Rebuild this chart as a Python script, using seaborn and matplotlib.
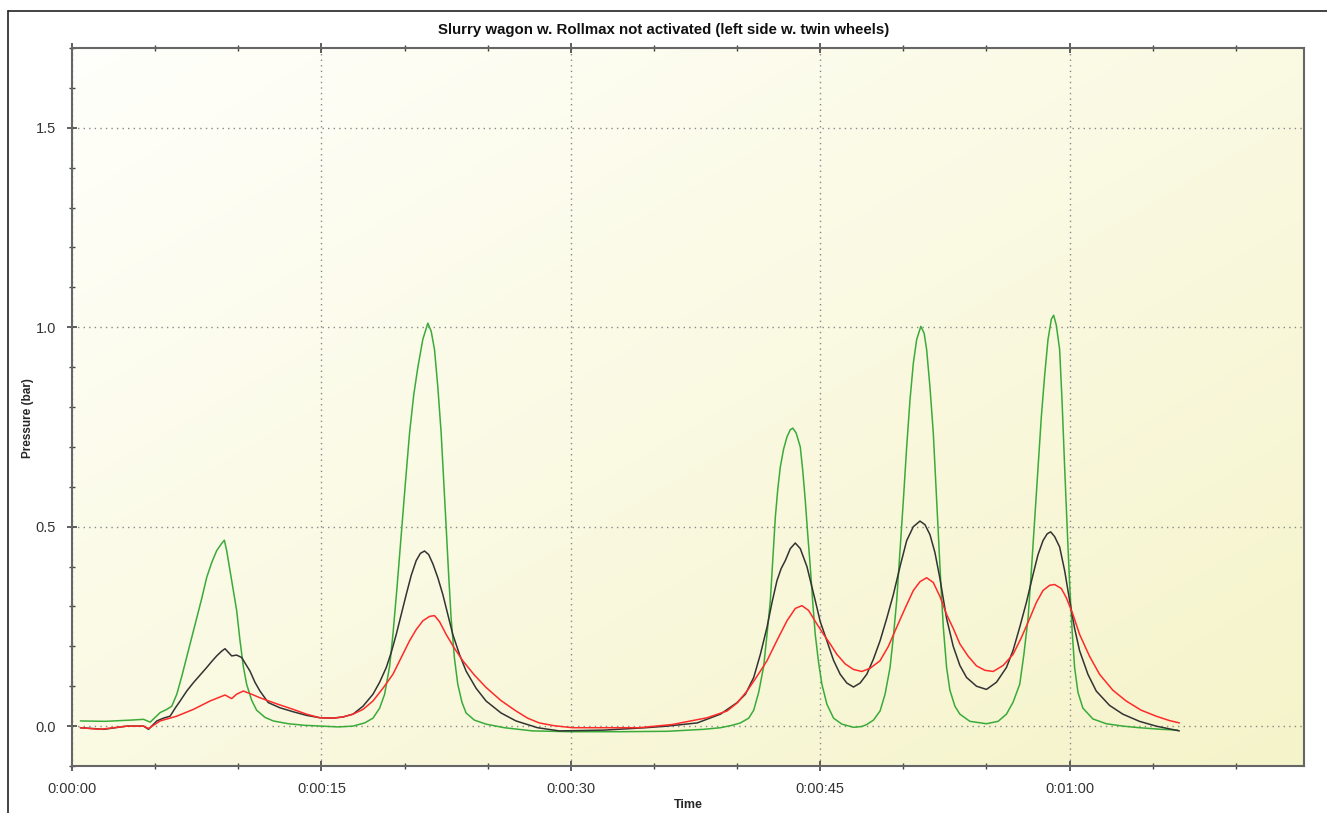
import numpy as np
import pandas as pd
import seaborn as sns
import matplotlib.pyplot as plt
from matplotlib.ticker import MultipleLocator, FuncFormatter
from matplotlib.lines import Line2D

# ---------- data (time in s, pressure in bar) ----------
green_t = [0.5, 2.0, 3.5, 4.3, 4.7, 5.0, 5.3, 5.7, 6.0, 6.3, 6.6, 7.0, 7.4, 7.8, 8.1, 8.4,
           8.7, 9.0, 9.16, 9.3, 9.5, 9.7, 9.9, 10.1, 10.3, 10.5, 10.8, 11.1, 11.6, 12.1,
           13.0, 14.0, 15.0, 16.0, 16.9, 17.6, 18.1, 18.5, 18.8, 19.1, 19.3, 19.55, 19.8,
           20.05, 20.3, 20.55, 20.8, 21.1, 21.4, 21.6, 21.8, 22.0, 22.2, 22.35, 22.5, 22.65,
           22.8, 23.0, 23.2, 23.45, 23.7, 24.2, 24.9, 26.0, 27.7, 30.0, 33.0, 35.8, 38.0,
           39.0, 39.7, 40.2, 40.7, 41.0, 41.3, 41.6, 41.8, 42.0, 42.15, 42.3, 42.45, 42.6,
           42.8, 43.0, 43.2, 43.35, 43.55, 43.8, 43.95, 44.1, 44.25, 44.4, 44.55, 44.7,
           44.9, 45.1, 45.4, 45.8, 46.3, 47.0, 47.5, 47.8, 48.2, 48.6, 48.9, 49.2, 49.4,
           49.6, 49.8, 50.0, 50.2, 50.4, 50.6, 50.8, 51.05, 51.25, 51.4, 51.6, 51.8, 51.95,
           52.1, 52.25, 52.4, 52.6, 52.8, 53.1, 53.4, 54.0, 55.0, 55.7, 56.2, 56.6, 57.0,
           57.25, 57.5, 57.7, 57.9, 58.1, 58.3, 58.5, 58.7, 58.9, 59.04, 59.2, 59.4, 59.55,
           59.7, 59.85, 60.0, 60.15, 60.3, 60.5, 60.8, 61.4, 62.2, 63.2, 64.2, 65.5, 66.5]
green_v = [0.013, 0.012, 0.015, 0.017, 0.010, 0.022, 0.034, 0.042, 0.050, 0.080, 0.125,
           0.190, 0.255, 0.320, 0.373, 0.410, 0.440, 0.458, 0.466, 0.440, 0.390, 0.340,
           0.290, 0.215, 0.150, 0.105, 0.065, 0.040, 0.022, 0.013, 0.006, 0.002, 0.0,
           -0.002, 0.0, 0.008, 0.020, 0.045, 0.080, 0.150, 0.230, 0.350, 0.480, 0.610,
           0.735, 0.830, 0.900, 0.970, 1.010, 0.990, 0.944, 0.850, 0.735, 0.620, 0.500,
           0.380, 0.270, 0.170, 0.105, 0.060, 0.033, 0.015, 0.005, -0.004, -0.012, -0.014,
           -0.014, -0.013, -0.008, -0.004, 0.002, 0.008, 0.020, 0.040, 0.085, 0.150, 0.230,
           0.315, 0.420, 0.524, 0.595, 0.650, 0.695, 0.725, 0.743, 0.747, 0.735, 0.700,
           0.640, 0.566, 0.480, 0.400, 0.310, 0.230, 0.160, 0.105, 0.055, 0.020, 0.005,
           -0.003, -0.001, 0.004, 0.015, 0.038, 0.080, 0.147, 0.225, 0.315, 0.440, 0.566,
           0.700, 0.818, 0.910, 0.969, 1.002, 0.985, 0.944, 0.850, 0.735, 0.610, 0.483,
           0.360, 0.250, 0.147, 0.090, 0.050, 0.030, 0.012, 0.006, 0.012, 0.030, 0.060,
           0.105, 0.180, 0.270, 0.390, 0.520, 0.650, 0.776, 0.880, 0.969, 1.020, 1.030,
           1.005, 0.944, 0.810, 0.650, 0.500, 0.357, 0.240, 0.147, 0.085, 0.045, 0.018,
           0.006, 0.0, -0.004, -0.008, -0.010]

black_t = [0.5, 1.9, 3.3, 4.3, 4.6, 5.1, 5.5, 5.9, 6.2, 6.5, 6.9, 7.3, 7.7, 8.1, 8.4, 8.7,
           9.0, 9.2, 9.4, 9.6, 9.9, 10.2, 10.45, 10.7, 11.0, 11.3, 11.8, 12.5, 13.3, 14.1,
           14.9, 15.7, 16.3, 16.9, 17.5, 18.1, 18.5, 18.9, 19.2, 19.5, 19.8, 20.1, 20.4,
           20.7, 20.95, 21.2, 21.45, 21.7, 22.0, 22.3, 22.6, 22.9, 23.3, 23.7, 24.3, 24.9,
           25.8, 26.7, 28.0, 29.3, 32.0, 34.5, 35.8, 37.6, 39.0, 40.0, 40.5, 41.0, 41.4,
           41.8, 42.1, 42.4, 42.65, 42.9, 43.2, 43.5, 43.8, 44.2, 44.45, 44.7, 45.0, 45.4,
           45.8, 46.2, 46.6, 47.0, 47.4, 47.8, 48.2, 48.6, 49.0, 49.4, 49.8, 50.2, 50.6,
           51.0, 51.3, 51.6, 51.9, 52.2, 52.6, 53.0, 53.4, 53.8, 54.4, 55.0, 55.6, 56.2,
           56.6, 57.0, 57.4, 57.8, 58.1, 58.4, 58.65, 58.86, 59.1, 59.4, 59.7, 60.0, 60.3,
           60.6, 61.1, 61.6, 62.4, 63.2, 64.2, 65.2, 66.6]
black_v = [-0.004, -0.008, 0.0, 0.0, -0.008, 0.013, 0.020, 0.025, 0.045, 0.063, 0.088,
           0.109, 0.128, 0.147, 0.162, 0.176, 0.188, 0.194, 0.185, 0.176, 0.178, 0.172,
           0.155, 0.138, 0.110, 0.088, 0.059, 0.046, 0.036, 0.027, 0.021, 0.020, 0.023,
           0.030, 0.050, 0.080, 0.110, 0.147, 0.185, 0.230, 0.280, 0.330, 0.378, 0.415,
           0.433, 0.439, 0.430, 0.407, 0.372, 0.330, 0.280, 0.230, 0.180, 0.138, 0.095,
           0.063, 0.033, 0.013, -0.004, -0.012, -0.010, -0.004, 0.0, 0.008, 0.030, 0.059,
           0.080, 0.122, 0.180, 0.248, 0.310, 0.365, 0.395, 0.415, 0.445, 0.459, 0.445,
           0.400, 0.358, 0.315, 0.262, 0.214, 0.165, 0.130, 0.108, 0.098, 0.108, 0.130,
           0.168, 0.214, 0.270, 0.330, 0.400, 0.465, 0.500, 0.514, 0.505, 0.480, 0.435,
           0.370, 0.270, 0.200, 0.152, 0.122, 0.100, 0.092, 0.110, 0.147, 0.190, 0.248,
           0.310, 0.380, 0.430, 0.465, 0.482, 0.487, 0.475, 0.449, 0.390, 0.315, 0.245,
           0.189, 0.130, 0.088, 0.052, 0.030, 0.012, 0.0, -0.012]

red_t = [0.5, 1.7, 3.3, 4.3, 4.6, 5.3, 6.3, 7.3, 8.3, 9.2, 9.6, 9.9, 10.3, 10.8, 11.3,
         12.3, 13.3, 14.1, 14.9, 15.7, 16.3, 16.9, 17.5, 18.1, 18.7, 19.3, 19.8, 20.3,
         20.7, 21.1, 21.5, 21.8, 22.1, 22.5, 23.0, 23.5, 24.2, 24.9, 25.8, 26.7, 27.4,
         28.1, 29.0, 30.1, 34.1, 36.1, 38.2, 39.4, 40.0, 40.6, 41.2, 41.8, 42.4, 43.0,
         43.5, 43.9, 44.3, 44.8, 45.2, 45.6, 46.0, 46.5, 47.0, 47.5, 48.0, 48.6, 49.1,
         49.6, 50.1, 50.6, 51.0, 51.4, 51.8, 52.2, 52.6, 53.0, 53.4, 53.9, 54.4, 54.9,
         55.4, 56.0, 56.6, 57.1, 57.6, 58.0, 58.4, 58.8, 59.1, 59.5, 59.8, 60.2, 60.6,
         61.2, 61.8, 62.6, 63.4, 64.3, 65.2, 66.0, 66.6]
red_v = [-0.004, -0.008, 0.0, 0.0, -0.006, 0.013, 0.025, 0.042, 0.063, 0.078, 0.069,
         0.080, 0.088, 0.080, 0.071, 0.056, 0.042, 0.030, 0.021, 0.020, 0.023, 0.030,
         0.042, 0.063, 0.095, 0.130, 0.172, 0.214, 0.242, 0.264, 0.275, 0.277, 0.262,
         0.230, 0.195, 0.164, 0.128, 0.097, 0.064, 0.038, 0.020, 0.008, 0.001, -0.004,
         -0.004, 0.004, 0.021, 0.038, 0.058, 0.088, 0.125, 0.164, 0.215, 0.264, 0.295,
         0.302, 0.290, 0.256, 0.230, 0.206, 0.180, 0.156, 0.142, 0.137, 0.145, 0.164,
         0.200, 0.248, 0.295, 0.340, 0.362, 0.372, 0.360, 0.325, 0.280, 0.245, 0.206,
         0.175, 0.151, 0.140, 0.137, 0.152, 0.180, 0.222, 0.270, 0.310, 0.340, 0.353,
         0.355, 0.345, 0.322, 0.280, 0.230, 0.175, 0.130, 0.090, 0.063, 0.040, 0.025,
         0.014, 0.008]

title = "Slurry wagon w. Rollmax not activated (left side w. twin wheels)"

# ---------- figure ----------
sns.set_style("white")
plt.rcParams["font.family"] = ["Liberation Sans", "DejaVu Sans"]

fig = plt.figure(figsize=(13.27, 8.13), dpi=100)
ax = fig.add_axes([0.0543, 0.0578, 0.9284, 0.8832])

# soft yellow gradient background, pale top-left -> yellow bottom-right
gx, gy = np.meshgrid(np.linspace(0, 1, 200), np.linspace(0, 1, 200))
g = (gx + gy) / 2
c0 = np.array([1.0, 1.0, 0.985])
c1 = np.array([0.962, 0.955, 0.79])
img = c0 + (c1 - c0) * g[..., None]
ax.imshow(img, extent=[0, 1, 0, 1], transform=ax.transAxes, aspect="auto",
          origin="upper", zorder=0)

sns.lineplot(x=green_t, y=green_v, color="#3aab3a", lw=1.1, ax=ax, zorder=3)
sns.lineplot(x=black_t, y=black_v, color="#333333", lw=1.1, ax=ax, zorder=4)
sns.lineplot(x=red_t, y=red_v, color="#ff2a2a", lw=1.1, ax=ax, zorder=5)

ax.set_xlim(0, 74.1)
ax.set_ylim(-0.1, 1.7)

ax.xaxis.set_major_locator(MultipleLocator(15))
ax.xaxis.set_minor_locator(MultipleLocator(5))
ax.yaxis.set_major_locator(MultipleLocator(0.5))
ax.yaxis.set_minor_locator(MultipleLocator(0.1))
ax.xaxis.set_major_formatter(FuncFormatter(
    lambda s, p: f"{int(s // 3600)}:{int(s % 3600 // 60):02d}:{int(s % 60):02d}"))
ax.yaxis.set_major_formatter(FuncFormatter(lambda v, p: f"{v:.1f}"))

ax.grid(True, which="major", linestyle=(0, (1, 3)), color="#888888", lw=1.0)
ax.tick_params(which="both", direction="inout", top=True, bottom=True, left=True,
               color="#444444", labelsize=10.5, labelcolor="#333333")
ax.tick_params(which="major", length=7, width=1.2, pad=8)
ax.tick_params(which="minor", length=4, width=1.0)
for s in ax.spines.values():
    s.set_color("#666666")
    s.set_linewidth(1.5)

ax.set_xlabel("Time", fontsize=9, fontweight="bold", labelpad=2)
ax.set_ylabel("Pressure (bar)", fontsize=8.5, fontweight="bold")
ax.yaxis.set_label_coords(-0.031, 0.485)
fig.text(0.5, 1 - 30 / 813, title, ha="center", va="center",
         fontsize=10.8, fontweight="bold", color="#111111")

# frame around the chart window
fig.add_artist(Line2D([8 / 1327, 1.0], [1 - 11 / 813] * 2, color="#222222", lw=1.2))
fig.add_artist(Line2D([8 / 1327] * 2, [0.0, 1 - 11 / 813], color="#222222", lw=1.2))

fig.savefig("out.png", dpi=100)
plt.close()
